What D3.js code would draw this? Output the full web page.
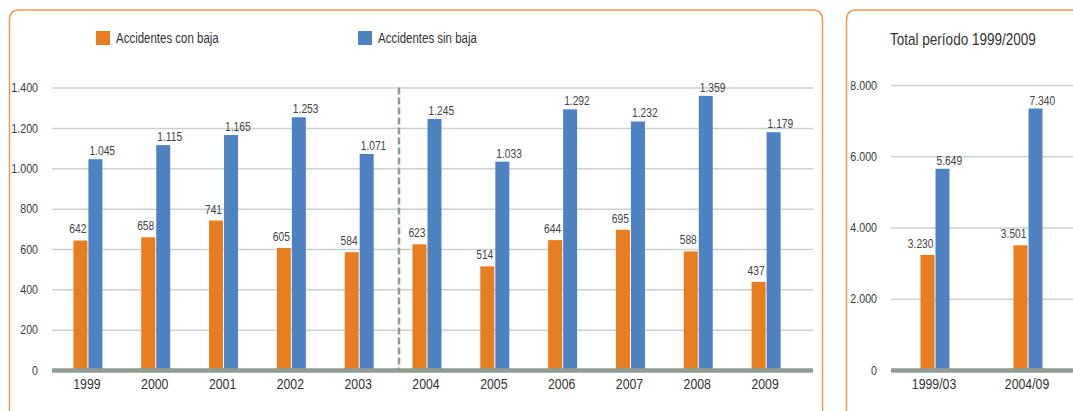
<!DOCTYPE html>
<meta charset="utf-8">
<title>Accidentes 1999-2009</title>
<style>
    body { margin: 0; background: #fff; }
    svg { display: block; font-family: "Liberation Sans", Arial, sans-serif; }
    .grid line { stroke: #c9d2ce; stroke-width: 1.5; }
    .grid text { fill: #3a3a3a; font-size: 13px; }
    .xaxis text { fill: #333; font-size: 15px; }
</style>
<body>
<script src="https://cdn.jsdelivr.net/npm/d3@7"></script>
<script>

    // data
    var years = ["1999", "2000", "2001", "2002", "2003", "2004", "2005", "2006", "2007", "2008", "2009"];
    var conBaja = [642, 658, 741, 605, 584, 623, 514, 644, 695, 588, 437];
    var sinBaja = [1045, 1115, 1165, 1253, 1071, 1245, 1033, 1292, 1232, 1359, 1179];
    var yTicks = [0, 200, 400, 600, 800, 1000, 1200, 1400];

    var periods = ["1999/03", "2004/09"];
    var totalCon = [3230, 3501];
    var totalSin = [5649, 7340];
    var totalTicks = [0, 2000, 4000, 6000, 8000];

    var seriesNames = ["Accidentes con baja", "Accidentes sin baja"];
    var colors = ["#e87e1f", "#4f82c3"];

    var es = d3.formatLocale({decimal: ",", thousands: ".", grouping: [3], currency: ["", " €"]});
    var fmt = es.format(",");

    // no narrow font installed: squeeze Liberation Sans horizontally instead
    var sx = 0.82;

    var width = 1073, height = 411;
    var svg = d3.select("body").append("svg")
        .attr("width", width)
        .attr("height", height);

    function label(parent, x, y, str, anchor, size, fill) {
        return parent.append("text")
            .attr("transform", "translate(" + x + "," + y + ") scale(" + sx + ",1)")
            .attr("text-anchor", anchor)
            .attr("fill", fill)
            .style("font-size", size + "px")
            .text(str);
    }

    // panel frames (rounded top, open at the bottom)
    function frame(x0, x1) {
        var r = 10, top = 10;
        return "M" + x0 + "," + height + "V" + (top + r) + "Q" + x0 + "," + top + " " + (x0 + r) + "," + top +
            "H" + (x1 - r) + "Q" + x1 + "," + top + " " + x1 + "," + (top + r) + "V" + height;
    }
    svg.append("path").attr("d", frame(9.5, 822.5))
        .attr("fill", "none").attr("stroke", "#eb9a4f").attr("stroke-width", 1.5);
    svg.append("path").attr("d", frame(846.5, 1090))
        .attr("fill", "none").attr("stroke", "#eb9a4f").attr("stroke-width", 1.5);

    function drawPanel(opt) {
        var y = d3.scaleLinear().domain(opt.domain).range([370, opt.yTop]);
        var x = d3.scaleBand().domain(opt.cats).range(opt.xRange);
        var bw = 14;

        var grid = svg.append("g").attr("class", "grid")
            .attr("transform", "translate(" + opt.gridX0 + ",0)")
            .call(d3.axisLeft(y).tickValues(opt.ticks).tickFormat(fmt)
                .tickSize(-(opt.gridX1 - opt.gridX0)).tickPadding(14));
        grid.select(".domain").remove();
        grid.selectAll(".tick line").filter(function (d) { return d === 0; }).remove();
        grid.selectAll(".tick text")
            .attr("x", -14 / sx)
            .attr("transform", "scale(" + sx + ",1)");

        if (opt.divider) {
            svg.append("line")
                .attr("x1", opt.divider).attr("x2", opt.divider)
                .attr("y1", y(opt.domain[1])).attr("y2", 370)
                .attr("stroke", "#8e9c93").attr("stroke-width", 2.5)
                .attr("stroke-dasharray", "7,3");
        }

        var g = svg.append("g");
        opt.cats.forEach(function (c, i) {
            var cx = x(c) + x.bandwidth() / 2;
            var vals = [opt.a[i], opt.b[i]];
            vals.forEach(function (v, k) {
                var bx = k === 0 ? cx - bw - 0.5 : cx + 0.5;
                g.append("rect")
                    .attr("x", bx).attr("y", y(v))
                    .attr("width", bw).attr("height", 370 - y(v))
                    .attr("fill", colors[k]);
                label(g, k === 0 ? bx + bw - 1 : bx + 1, y(v) - (k === 0 ? 7 : 4),
                    fmt(v), k === 0 ? "end" : "start", 12.5, "#444");
            });
        });

        // thick baseline
        svg.append("line")
            .attr("x1", opt.gridX0).attr("x2", opt.gridX1)
            .attr("y1", 370.5).attr("y2", 370.5)
            .attr("stroke", "#8e9c93").attr("stroke-width", 4.5);

        var xa = svg.append("g").attr("class", "xaxis")
            .attr("transform", "translate(-1,370)")
            .call(d3.axisBottom(x).tickSize(0).tickPadding(8));
        xa.select(".domain").remove();
        xa.selectAll(".tick text").attr("transform", "scale(" + sx + ",1)");
    }

    drawPanel({
        cats: years, a: conBaja, b: sinBaja,
        domain: [0, 1400], yTop: 87.6, ticks: yTicks,
        xRange: [54, 800], gridX0: 52, gridX1: 813, divider: 399
    });

    drawPanel({
        cats: periods, a: totalCon, b: totalSin,
        domain: [0, 8000], yTop: 85, ticks: totalTicks,
        xRange: [888.5, 1074.5], gridX0: 891, gridX1: 1073
    });

    // legend
    var leg = svg.append("g");
    [96, 358].forEach(function (lx, k) {
        leg.append("rect").attr("x", lx).attr("y", 31).attr("width", 14).attr("height", 14)
            .attr("fill", colors[k]);
        label(leg, lx + 20, 43, seriesNames[k], "start", 14, "#333");
    });

    label(svg, 890, 45, "Total período 1999/2009", "start", 16.5, "#333");

</script>
